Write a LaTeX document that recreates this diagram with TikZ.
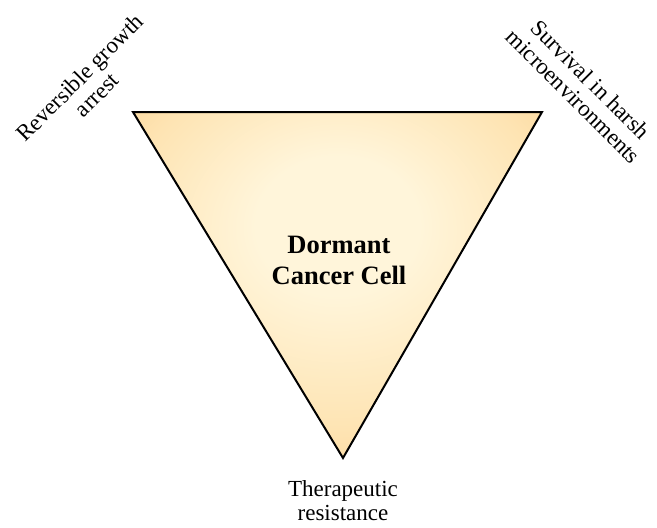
\documentclass[tikz,border=0pt]{standalone}
\usepackage{fontspec}
\setmainfont{Liberation Serif}
\usepackage{tikz}
\usetikzlibrary{positioning,calc}
\definecolor{glowin}{HTML}{FFF5DA}
\definecolor{glowmid}{HTML}{FEE4B3}
\definecolor{glowrim}{HTML}{FAD08E}
\definecolor{glowout}{HTML}{F5BE76}
\pgfdeclareradialshading{dormantglow}{\pgfpoint{0bp}{10bp}}{color(0bp)=(glowin); color(10bp)=(glowin); color(27bp)=(glowmid); color(40bp)=(glowrim); color(52bp)=(glowout); color(70bp)=(glowout)}

\begin{document}
\begin{tikzpicture}[x=1pt, y=-1pt]
	\tikzstyle{every node} = [inner sep = 0pt, align = center]
	\tikzstyle{trait} = [font = \fontsize{23}{24}\selectfont]
	\tikzstyle{core} = [font = \fontsize{26.5}{31}\selectfont\bfseries]
\useasboundingbox (0, 0) rectangle (657, 528);
\coordinate (arrest) at (133, 112);
\coordinate (survival) at (542, 112);
\coordinate (resistance) at (343, 458);

	\path[draw, line width = 2pt, line join = miter, shading = dormantglow] (arrest) -- (survival) -- (resistance) -- cycle;
    \node[core] (cell) at (339, 260) {Dormant\\Cancer Cell};
    \node[trait, rotate = 45] (arrestlabel) at (88, 86) {Reversible growth\\arrest};
    \node[trait, rotate = -45] (survivallabel) at (582, 88) {Survival in harsh\\microenvironments};
    \node[trait] (resistancelabel) at (343, 501) {Therapeutic\\resistance};
	\end{tikzpicture}
\end{document}
